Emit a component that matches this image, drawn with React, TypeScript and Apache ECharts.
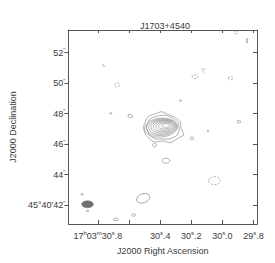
import React, { useEffect, useRef } from "react";
import * as echarts from "echarts";

// Axis ranges (RA seconds of 17h03m, Dec arcsec of 45°40')
const raMin = 29.7775;
const raMax = 30.99;
const decMin = 40.77;
const decMax = 53.49;

const raTicks = [29.8, 30.0, 30.2, 30.4, 30.6, 30.8];
const raLabels = [29.8, 30.0, 30.2, 30.4, 30.8];
const decTicks = [42, 44, 46, 48, 50, 52];

// Nested contours of the main source: [ra, dec, rxSec, ryArcsec, rotationDeg]
const coreContours = [
  [30.365, 47.228, 0.025, 0.118, 5],
  [30.369, 47.208, 0.041, 0.197, 5],
  [30.374, 47.188, 0.053, 0.275, 5],
  [30.378, 47.169, 0.066, 0.348, 5],
  [30.3825, 47.149, 0.077, 0.413, 5],
  [30.387, 47.129, 0.0875, 0.479, 5],
  [30.391, 47.11, 0.0975, 0.544, 5],
  [30.395, 47.09, 0.106, 0.616, 5],
];

// Outer irregular contours of the main source: [ra, dec]
const outerContour1 = [
  [30.509, 47.149], [30.4775, 47.805], [30.434, 47.982], [30.392, 48.133],
  [30.3525, 47.982], [30.309, 47.785], [30.271, 47.477], [30.265, 47.064],
  [30.248, 46.605], [30.284, 46.408], [30.334, 46.1], [30.384, 46.211],
  [30.434, 46.146], [30.459, 46.277], [30.496, 46.67], [30.509, 47.149],
];
const outerContour2 = [
  [30.49, 47.129], [30.465, 47.654], [30.415, 47.851], [30.371, 47.916],
  [30.321, 47.72], [30.284, 47.392], [30.2775, 46.933], [30.296, 46.539],
  [30.3525, 46.342], [30.415, 46.342], [30.465, 46.539], [30.49, 47.129],
];

// Small positive blobs: [ra, dec, rxSec, ryArcsec, rotationDeg]
const positiveBlobs = [
  [30.363, 44.92, 0.025, 0.164, 0],
  [30.509, 42.454, 0.044, 0.295, 20],
  [30.436, 45.949, 0.0125, 0.13, 0],
  [30.196, 46.388, 0.0125, 0.08, 0],
  [30.592, 47.851, 0.0156, 0.098, -20],
  [30.686, 41.077, 0.0156, 0.08, 0],
  [30.571, 41.359, 0.0125, 0.08, 0],
  [30.717, 48.028, 0.006, 0.05, 0],
  [30.269, 48.854, 0.006, 0.05, 0],
  [29.894, 47.477, 0.0125, 0.08, 0],
  [30.901, 42.716, 0.008, 0.05, 0],
  [30.867, 41.621, 0.008, 0.05, 0],
  [29.842, 52.788, 0.0044, 0.164, 0],
];

// Negative (dashed) contours
const negativeBlobs = [
  [30.051, 43.608, 0.0375, 0.262, 0],
  [30.676, 49.883, 0.0156, 0.131, 0],
  [30.176, 50.428, 0.019, 0.131, 0],
  [30.123, 50.867, 0.0094, 0.131, 0],
  [29.946, 50.323, 0.0156, 0.098, 0],
  [29.915, 53.339, 0.0125, 0.098, 0],
  [30.763, 51.149, 0.0094, 0.066, 0],
  [30.092, 46.867, 0.008, 0.05, 0],
];

// Restoring beam
const beam = [[30.867, 42.06, 0.0375, 0.23, 0]];

const FONT = "Liberation Sans";
const TEXT = "#3a3a3a";
const LINE = "#8c8c8c";

function ellipseRenderer(stroke: string, fill: string, dash: number[] | null, lw: number) {
  return (_params: any, api: any) => {
    const c = api.coord([api.value(0), api.value(1)]);
    const s = api.size([api.value(2), api.value(3)]);
    return {
      type: "ellipse",
      x: c[0],
      y: c[1],
      rotation: (api.value(4) * Math.PI) / 180,
      shape: { cx: 0, cy: 0, rx: Math.abs(s[0]), ry: Math.abs(s[1]) },
      style: {
        fill,
        stroke,
        lineWidth: lw,
        lineDash: dash || undefined,
      },
    };
  };
}

function raLabel(v: number) {
  const frac = Math.round((v % 1) * 10);
  const sec = Math.floor(v + 1e-9);
  if (Math.abs(v - 30.8) < 1e-6) {
    return `17{sup|h}03{sup|m}30{sup|s}.${frac}`;
  }
  return `${sec}{sup|s}.${frac}`;
}

function decLabel(v: number) {
  if (Math.abs(v - 42) < 1e-6) return `45°40'42{sup|"}`;
  return `${Math.round(v)}{sup|"}`;
}

export default function App() {
  const ref = useRef<HTMLDivElement>(null);
  useEffect(() => {
    if (!ref.current) return;
    const chart = echarts.init(ref.current, null, { renderer: "svg" });
    const rich = {
      sup: { fontSize: 6, fontFamily: FONT, color: TEXT, padding: [0, 0, 5, 0] },
    };
    const lineSeries = (data: number[][]) => ({
      type: "line",
      data,
      showSymbol: false,
      symbol: "none",
      smooth: 0.2,
      lineStyle: { color: LINE, width: 0.7 },
      silent: true,
      clip: true,
    });
    chart.setOption({
      animation: false,
      backgroundColor: "#fff",
      title: {
        text: "J1703+4540",
        left: 160,
        top: 16,
        textAlign: "center",
        textStyle: { fontFamily: FONT, fontSize: 9, fontWeight: "normal", color: TEXT },
      },
      grid: { left: 63, top: 30, width: 194, height: 194 },
      xAxis: [
        {
          type: "value",
          min: raMin,
          max: raMax,
          inverse: true,
          position: "bottom",
          splitLine: { show: false },
          axisLine: { show: true, lineStyle: { color: "#555", width: 1 } },
          axisTick: {
            show: true,
            inside: true,
            length: 4,
            customValues: raTicks,
            lineStyle: { color: "#555" },
          },
          axisLabel: {
            customValues: raLabels,
            formatter: raLabel,
            fontFamily: FONT,
            fontSize: 9,
            color: TEXT,
            margin: 6,
            rich,
          },
          name: "J2000 Right Ascension",
          nameLocation: "middle",
          nameGap: 22,
          nameTextStyle: { fontFamily: FONT, fontSize: 9, color: TEXT },
        },
        {
          type: "value",
          min: raMin,
          max: raMax,
          inverse: true,
          position: "top",
          splitLine: { show: false },
          axisLine: { show: true, lineStyle: { color: "#555", width: 1 } },
          axisTick: {
            show: true,
            inside: true,
            length: 3,
            customValues: raTicks,
            lineStyle: { color: "#555" },
          },
          axisLabel: { show: false },
        },
      ],
      yAxis: [
        {
          type: "value",
          min: decMin,
          max: decMax,
          position: "left",
          splitLine: { show: false },
          axisLine: { show: true, lineStyle: { color: "#555", width: 1 } },
          axisTick: {
            show: true,
            inside: false,
            length: 4,
            customValues: decTicks,
            lineStyle: { color: "#555" },
          },
          axisLabel: {
            customValues: decTicks,
            formatter: decLabel,
            fontFamily: FONT,
            fontSize: 9,
            color: TEXT,
            margin: 3,
            rich,
          },
          name: "J2000 Declination",
          nameLocation: "middle",
          nameGap: 50,
          nameTextStyle: { fontFamily: FONT, fontSize: 9, color: TEXT },
        },
        {
          type: "value",
          min: decMin,
          max: decMax,
          position: "right",
          splitLine: { show: false },
          axisLine: { show: true, lineStyle: { color: "#555", width: 1 } },
          axisTick: {
            show: true,
            inside: true,
            length: 4,
            customValues: decTicks,
            lineStyle: { color: "#555" },
          },
          axisLabel: { show: false },
        },
      ],
      series: [
        lineSeries(outerContour1),
        lineSeries(outerContour2),
        {
          type: "custom",
          data: coreContours,
          renderItem: ellipseRenderer(LINE, "none", null, 0.6),
          silent: true,
          clip: true,
        },
        {
          type: "custom",
          data: positiveBlobs,
          renderItem: ellipseRenderer(LINE, "none", null, 0.7),
          silent: true,
          clip: true,
        },
        {
          type: "custom",
          data: negativeBlobs,
          renderItem: ellipseRenderer(LINE, "none", [2, 1.5], 0.7),
          silent: true,
          clip: true,
        },
        {
          type: "custom",
          data: beam,
          renderItem: ellipseRenderer("#707070", "#707070", null, 0.5),
          silent: true,
          clip: true,
        },
      ],
    });
    return () => chart.dispose();
  }, []);
  return (
    <div
      ref={ref}
      style={{ position: "fixed", left: 0, top: 0, width: 275, height: 263, background: "#fff" }}
    />
  );
}
